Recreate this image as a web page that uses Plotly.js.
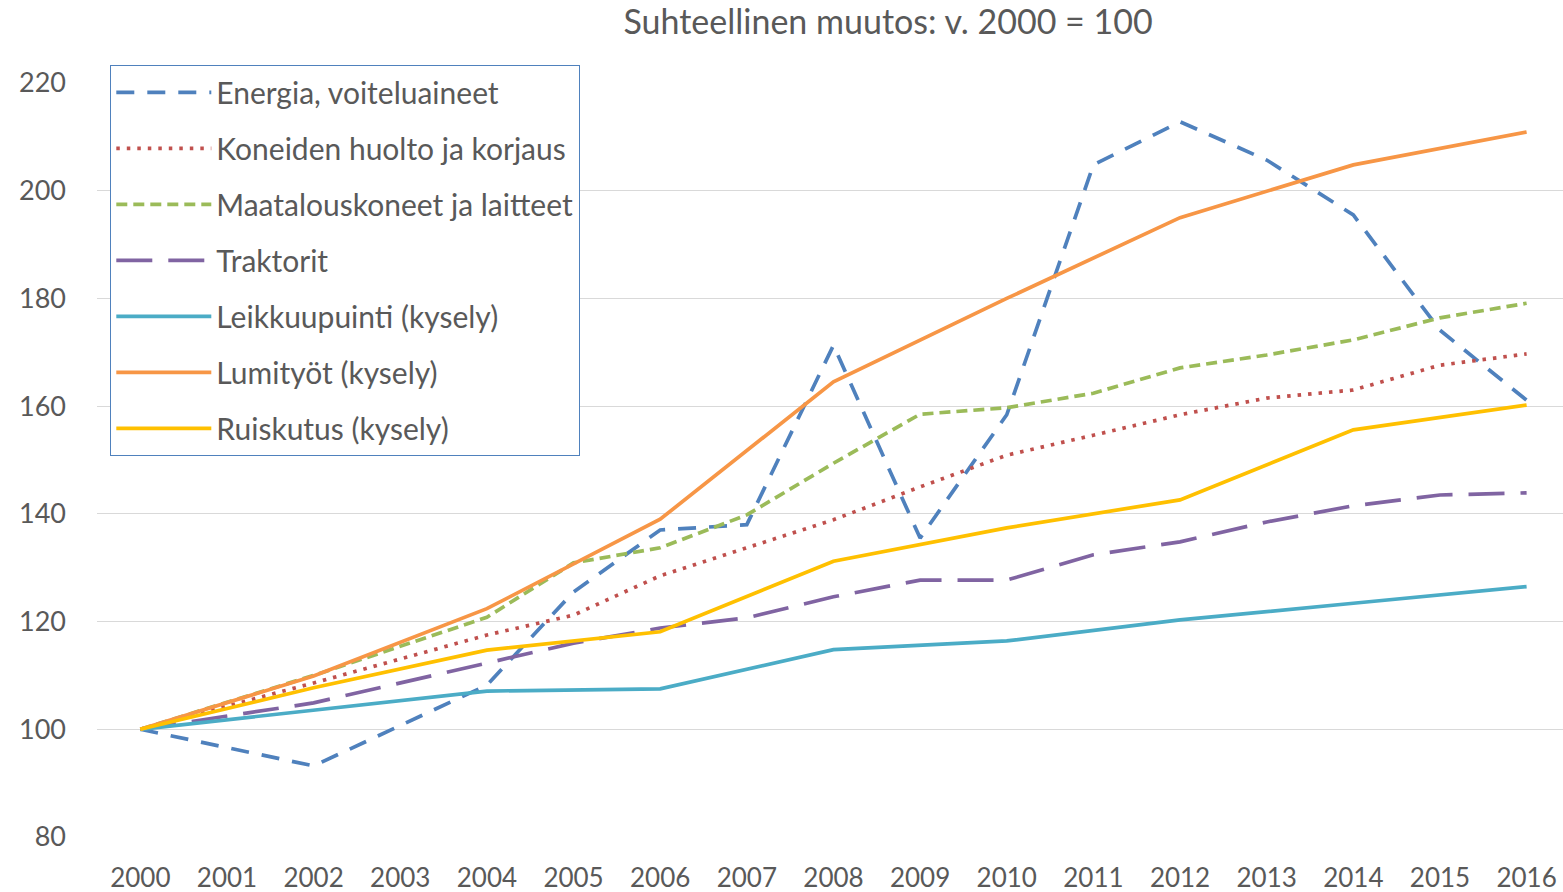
<!DOCTYPE html>
<html>
<head>
<meta charset="utf-8">
<script src="https://cdn.plot.ly/plotly-3.0.1.min.js"></script>
<style>html,body{margin:0;padding:0;background:#fff;}#chart{width:1563px;height:892px;}</style>
</head>
<body>
<div id="chart"></div>
<script>
// Years
const yearsAnnual = [2000, 2002, 2004, 2005, 2006, 2007, 2008, 2009, 2010, 2011, 2012, 2013, 2014, 2015, 2016];
const yearsSurvey = [2000, 2002, 2004, 2006, 2008, 2010, 2012, 2014, 2016];
const yearsLeikkuu = [2000, 2004, 2006, 2008, 2010, 2012, 2014, 2016];
const tickYears = [2000,2001,2002,2003,2004,2005,2006,2007,2008,2009,2010,2011,2012,2013,2014,2015,2016];
const tickLabels = ["2000","2001","2002","2003","2004","2005","2006","2007","2008","2009","2010","2011","2012","2013","2014","2015","2016"];

// Series values (index, year 2000 = 100)
const energia     = [100, 93.2, 108.2, 125.5, 137.0, 138.0, 171.3, 135.5, 158.4, 204.8, 212.8, 205.7, 195.5, 174.1, 161.1];
const koneiden    = [100, 108.6, 117.5, 121.2, 128.5, 133.7, 138.9, 145.0, 150.9, 154.6, 158.4, 161.5, 163.0, 167.6, 169.7];
const maatalous   = [100, 110.0, 120.8, 130.9, 133.7, 139.8, 149.4, 158.5, 159.7, 162.4, 167.1, 169.5, 172.3, 176.4, 179.1];
const traktorit   = [100, 104.9, 112.3, 116.0, 118.8, 120.7, 124.6, 127.7, 127.7, 132.4, 134.8, 138.5, 141.5, 143.5, 143.9];
const leikkuu     = [100, 107.1, 107.5, 114.8, 116.4, 120.3, 123.4, 126.5];
const lumityot    = [100, 109.9, 122.4, 139.0, 164.5, 180.0, 195.0, 204.8, 210.9];
const ruiskutus   = [100, 107.7, 114.7, 118.1, 131.2, 137.4, 142.6, 155.6, 160.2];

const names = ["Energia, voiteluaineet","Koneiden huolto ja korjaus","Maatalouskoneet ja laitteet","Traktorit","Leikkuupuinti (kysely)","Lumityöt (kysely)","Ruiskutus (kysely)"];

function tr(x, y, name, color, dash, g) {
  return {x: x, y: y, name: name, type: 'scatter', mode: 'lines', legendgroup: g,
    line: {color: color, width: 3.7, dash: dash}, hoverinfo: 'x+y+name'};
}

const data = [
  tr(yearsAnnual, energia, names[0], '#4F81BD', '18px,13px', 'a'),
  tr(yearsAnnual, koneiden, names[1], '#C0504D', '3.5px,7px', 'b'),
  tr(yearsAnnual, maatalous, names[2], '#9BBB59', '11px,6px', 'c'),
  tr(yearsAnnual, traktorit, names[3], '#8064A2', '36px,16px', 'd'),
  tr(yearsLeikkuu, leikkuu, names[4], '#4BACC6', 'solid', 'e'),
  tr(yearsSurvey, lumityot, names[5], '#F79646', 'solid', 'f'),
  tr(yearsSurvey, ruiskutus, names[6], '#FFC000', 'solid', 'g')
];

const font = "Lato, 'Open Sans', sans-serif";
const layout = {
  width: 1563, height: 892,
  margin: {l: 97, r: 0, t: 83, b: 55},
  paper_bgcolor: '#fff', plot_bgcolor: '#fff',
  font: {family: font, color: '#595959', size: 27},
  title: {text: 'Suhteellinen muutos: v. 2000 = 100', x: 0.5396, xref: 'paper', xanchor: 'center',
          y: 1 - 22/892, yref: 'container', yanchor: 'middle', font: {family: font, size: 34, color: '#595959'}},
  xaxis: {range: [1999.5, 2016.42], tickvals: tickYears, ticktext: tickLabels, showgrid: false,
          zeroline: false, showline: false, ticks: '', ticklabelstandoff: 23, tickfont: {size: 26, color: '#595959'}, fixedrange: true},
  yaxis: {range: [80, 220], dtick: 20, tick0: 80, showgrid: true, gridcolor: '#D9D9D9', gridwidth: 1.3,
          zeroline: false, showline: false, ticks: '', ticklabelstandoff: 30, tickfont: {size: 27, color: '#595959'}, fixedrange: true},
  showlegend: true,
  legend: {x: (110-97)/1466, xanchor: 'left', y: (837-65)/754, yanchor: 'top',
           bgcolor: '#fff', bordercolor: '#4F81BD', borderwidth: 1.3,
           font: {family: font, size: 30, color: '#595959'}, traceorder: 'grouped', tracegroupgap: 14,
           itemwidth: 95, entrywidth: 480, entrywidthmode: 'pixels'}
};

Plotly.newPlot('chart', data, layout, {displayModeBar: false, staticPlot: false});
</script>
</body>
</html>
